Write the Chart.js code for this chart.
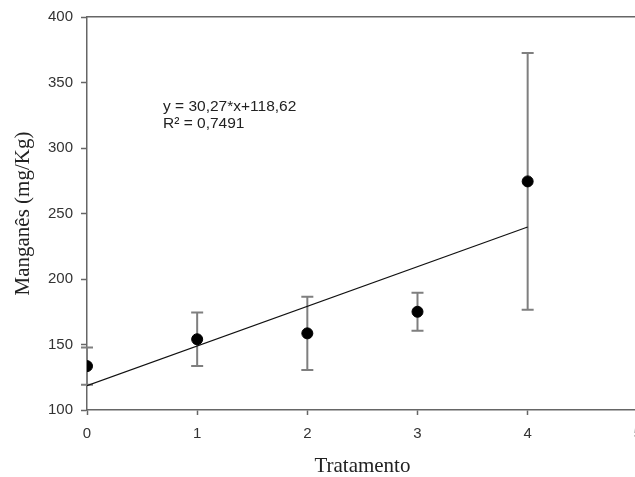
<!DOCTYPE html>
<html>
<head>
<meta charset="utf-8">
<script src="https://cdn.jsdelivr.net/npm/chart.js@4.4.0/dist/chart.umd.min.js"></script>
<style>
html,body{margin:0;padding:0;background:#fff;overflow:hidden;width:635px;height:477px;}
#wrap{width:652px;height:477px;position:relative;}
</style>
</head>
<body>
<div id="wrap"><canvas id="c" width="652" height="477"></canvas></div>
<script>
// Data
const treatments = [0, 1, 2, 3, 4];
const meanMn = [133.5, 154, 158.5, 175, 274.5];
const errMn = [14.2, 20.5, 28, 14.5, 98];
const regX = [0, 4];
const regY = [118.62, 239.70];
const yTicks = [100, 150, 200, 250, 300, 350, 400];
const xTicks = [0, 1, 2, 3, 4, 5];
const eqLines = ['y = 30,27*x+118,62', 'R\u00B2 = 0,7491'];

const pointData = treatments.map((x, i) => ({x: x, y: meanMn[i]}));
const lineData = regX.map((x, i) => ({x: x, y: regY[i]}));

const errorBars = {
  id: 'errorBars',
  beforeDatasetsDraw(chart) {
    const {ctx, scales: {x, y}} = chart;
    ctx.save();
    ctx.strokeStyle = '#7f7f7f';
    ctx.lineWidth = 2;
    const cap = 6;
    treatments.forEach((t, i) => {
      const px = x.getPixelForValue(t);
      const top = y.getPixelForValue(meanMn[i] + errMn[i]);
      const bot = y.getPixelForValue(meanMn[i] - errMn[i]);
      ctx.beginPath();
      ctx.moveTo(px, top); ctx.lineTo(px, bot);
      ctx.moveTo(px - cap, top); ctx.lineTo(px + cap, top);
      ctx.moveTo(px - cap, bot); ctx.lineTo(px + cap, bot);
      ctx.stroke();
    });
    ctx.restore();
  },
  afterDraw(chart) {
    const {ctx} = chart;
    ctx.save();
    ctx.fillStyle = '#222';
    ctx.font = '15.5px "Liberation Sans", Arial, sans-serif';
    ctx.textBaseline = 'alphabetic';
    ctx.textAlign = 'left';
    ctx.fillText(eqLines[0], 163, 111);
    ctx.fillText(eqLines[1], 163, 128);
    ctx.restore();
  }
};

new Chart(document.getElementById('c'), {
  type: 'scatter',
  data: {
    datasets: [
      {
        label: 'Manganês',
        data: pointData,
        backgroundColor: '#000',
        borderColor: '#000',
        pointRadius: 5.5,
        pointHoverRadius: 5.5,
        order: 0
      },
      {
        label: 'Regressão',
        type: 'line',
        data: lineData,
        borderColor: '#111',
        borderWidth: 1.2,
        pointRadius: 0,
        fill: false,
        order: 1
      }
    ]
  },
  options: {
    responsive: false,
    animation: false,
    layout: {padding: 0},
    plugins: {legend: {display: false}, tooltip: {enabled: false}},
    scales: {
      x: {
        type: 'linear',
        position: 'bottom',
        min: 0, max: 5,
        afterBuildTicks(s) { s.ticks = xTicks.map(v => ({value: v})); },
        afterFit(s) { s.height = 67; },
        grid: {drawOnChartArea: false, drawTicks: true, tickLength: 5, color: '#666', tickWidth: 1.5},
        border: {display: true, color: '#666', width: 1.5},
        ticks: {color: '#333', padding: 10, maxRotation: 0, font: {family: '"Liberation Sans", Arial, sans-serif', size: 15}},
        title: {display: true, text: 'Tratamento', color: '#222', padding: {top: 0, bottom: 0}, font: {family: '"Liberation Serif", "Times New Roman", serif', size: 21, lineHeight: 1}}
      },
      x2: {
        type: 'linear',
        position: 'top',
        min: 0, max: 5,
        afterFit(s) { s.height = 15; },
        grid: {display: false, drawTicks: false},
        border: {display: true, color: '#666', width: 1.5},
        ticks: {display: false}
      },
      y: {
        type: 'linear',
        min: 100, max: 400,
        afterBuildTicks(s) { s.ticks = yTicks.map(v => ({value: v})); },
        afterFit(s) { s.width = 87; },
        grid: {drawOnChartArea: false, drawTicks: true, tickLength: 6, color: '#666', tickWidth: 1.5},
        border: {display: true, color: '#666', width: 1.5},
        ticks: {color: '#333', padding: 8, font: {family: '"Liberation Sans", Arial, sans-serif', size: 15}},
        title: {display: true, text: 'Manganês (mg/Kg)', color: '#222', padding: {top: 13, bottom: 0}, font: {family: '"Liberation Serif", "Times New Roman", serif', size: 21, lineHeight: 1}}
      }
    }
  },
  plugins: [errorBars]
});
</script>
</body>
</html>
